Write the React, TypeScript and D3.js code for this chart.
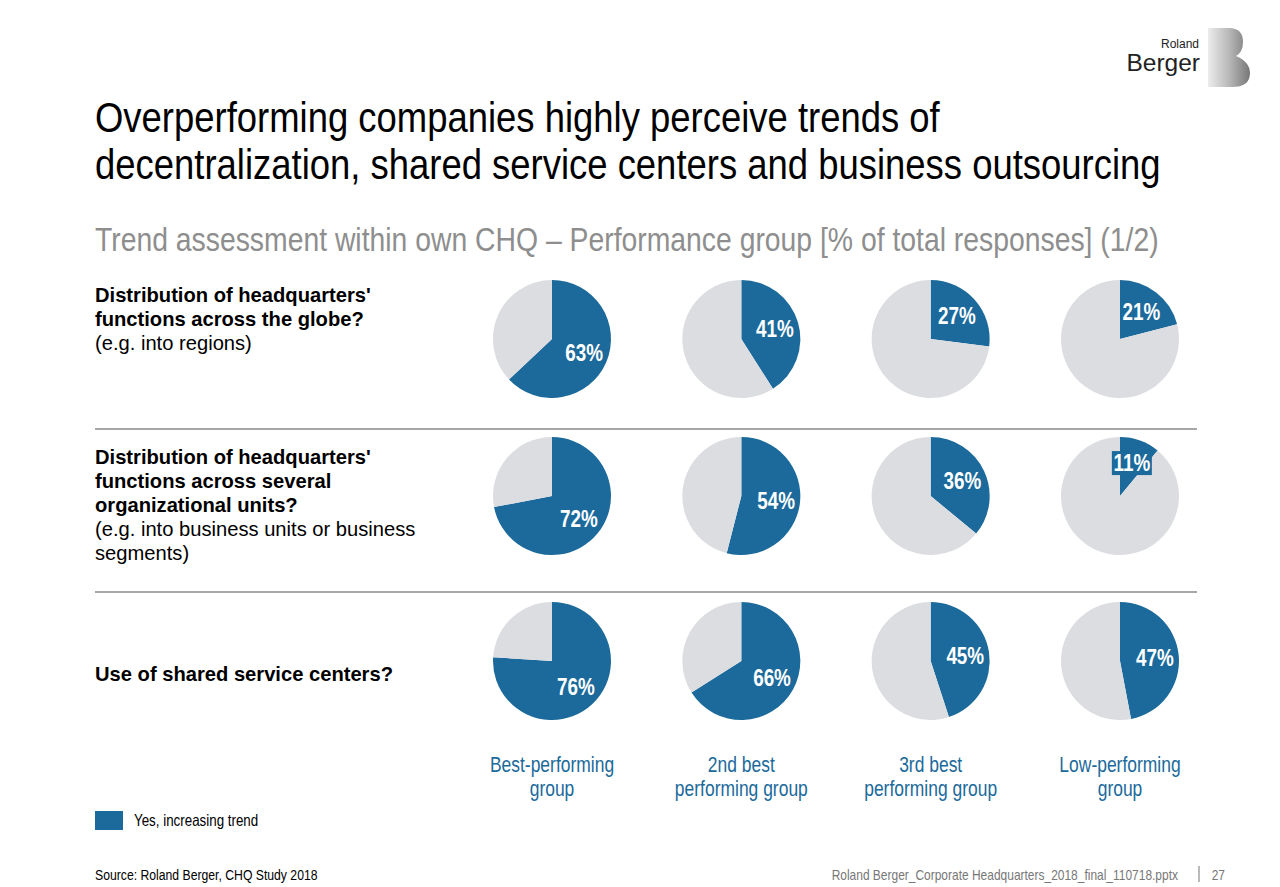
import * as d3 from "d3";

// data
const groups = [
  ["Best-performing", "group"],
  ["2nd best", "performing group"],
  ["3rd best", "performing group"],
  ["Low-performing", "group"],
];
const rowKeys = ["globe", "orgUnits", "ssc"];
const globeValues = [63, 41, 27, 21];
const orgUnitValues = [72, 54, 36, 11];
const sscValues = [76, 66, 45, 47];
const rowValues = [globeValues, orgUnitValues, sscValues];

const rowLabels = [
  [
    { t: "Distribution of headquarters'", b: true },
    { t: "functions across the globe?", b: true },
    { t: "(e.g. into regions)", b: false },
  ],
  [
    { t: "Distribution of headquarters'", b: true },
    { t: "functions across several", b: true },
    { t: "organizational units?", b: true },
    { t: "(e.g. into business units or business", b: false },
    { t: "segments)", b: false },
  ],
  [{ t: "Use of shared service centers?", b: true }],
];

const BLUE = "#1b6a9b";
const GREY = "#dcdde1";
const FONT = "'Liberation Sans', Arial, sans-serif";
const NARROW = 0.82; // Arial Narrow ~ Arial squeezed horizontally

const W = 1280;
const H = 887;
const R = 59;

type NTextProps = {
  x: number;
  y: number;
  size: number;
  sx?: number;
  fill?: string;
  bold?: boolean;
  anchor?: "start" | "middle" | "end";
  baseline?: string;
  children: React.ReactNode;
};

// narrow text: draw at origin and squeeze with a transform
function NText({ x, y, size, sx = NARROW, fill = "#000", bold, anchor = "start", baseline, children }: NTextProps) {
  return (
    <g transform={`translate(${x},${y}) scale(${sx},1)`}>
      <text
        x={0}
        y={0}
        fontSize={size}
        fill={fill}
        fontWeight={bold ? "bold" : "normal"}
        textAnchor={anchor}
        dominantBaseline={baseline}
      >
        {children}
      </text>
    </g>
  );
}

export default function App() {
  const x = d3.scalePoint<number>().domain(d3.range(groups.length)).range([552, 1120]);
  const y = d3.scaleOrdinal<string, number>().domain(rowKeys).range([339, 496, 661]);
  const labelTop = d3.scaleOrdinal<string, number>().domain(rowKeys).range([302, 464, 681]);

  const pie = d3
    .pie<{ k: string; v: number }>()
    .value((d) => d.v)
    .sort(null);
  const arc = d3.arc<d3.PieArcDatum<{ k: string; v: number }>>().innerRadius(0).outerRadius(R);
  const labelArc = d3.arc<d3.PieArcDatum<{ k: string; v: number }>>().innerRadius(35).outerRadius(35);

  return (
    <svg
      width={W}
      height={H}
      style={{ position: "absolute", left: 0, top: 0, background: "#fff" }}
      fontFamily={FONT}
    >
      <defs>
        <linearGradient id="bgrad" x1="0" x2="1" y1="0" y2="0">
          <stop offset="0" stopColor="#ececec" />
          <stop offset="0.5" stopColor="#b8b8b8" />
          <stop offset="1" stopColor="#777" />
        </linearGradient>
      </defs>

      {/* logo */}
      <text x={1199} y={48} textAnchor="end" fontSize={12} fill="#222">
        Roland
      </text>
      <text x={1200} y={71} textAnchor="end" fontSize={24.5} fill="#222">
        Berger
      </text>
      <path
        d="M1208,28 H1229 Q1243,28 1243,42 Q1243,52 1236,56 Q1250,62 1250,73 Q1250,87 1232,87 H1208 Z"
        fill="url(#bgrad)"
      />

      {/* title */}
      <NText x={95} y={132} size={42} sx={0.868}>
        Overperforming companies highly perceive trends of
      </NText>
      <NText x={95} y={179} size={42} sx={0.868}>
        decentralization, shared service centers and business outsourcing
      </NText>
      <NText x={95} y={251} size={33} sx={0.859} fill="#8e8e8e">
        Trend assessment within own CHQ – Performance group [% of total responses] (1/2)
      </NText>

      {/* row labels */}
      {rowKeys.map((k, i) => (
        <g key={k}>
          {rowLabels[i].map((l, j) => (
            <NText key={j} x={95} y={labelTop(k) + j * 24} size={21} sx={0.96} bold={l.b}>
              {l.t}
            </NText>
          ))}
        </g>
      ))}

      {/* separators */}
      {[429, 592].map((ly) => (
        <line key={ly} x1={95} x2={1197} y1={ly} y2={ly} stroke="#8a8a8a" strokeWidth={1.5} />
      ))}

      {/* pies */}
      {rowKeys.map((k, i) =>
        rowValues[i].map((v, c) => {
          const arcs = pie([
            { k: "yes", v },
            { k: "other", v: 100 - v },
          ]);
          const [lx, ly] = labelArc.centroid(arcs[0]);
          const small = v < 15;
          return (
            <g key={k + c} transform={`translate(${x(c)},${y(k)})`}>
              {arcs.map((a) => (
                <path key={a.data.k} d={arc(a) || ""} fill={a.data.k === "yes" ? BLUE : GREY} />
              ))}
              {small && <rect x={lx - 20} y={ly - 12} width={40} height={24} fill={BLUE} />}
              <NText x={lx} y={ly} size={23} bold fill="#fff" anchor="middle" baseline="central">
                {v}%
              </NText>
            </g>
          );
        })
      )}

      {/* group labels */}
      {groups.map((g, c) =>
        g.map((line, j) => (
          <NText key={c + "-" + j} x={x(c)!} y={772 + j * 24} size={21.3} fill={BLUE} anchor="middle">
            {line}
          </NText>
        ))
      )}

      {/* legend */}
      <rect x={95} y={811} width={28} height={19} fill={BLUE} />
      <NText x={134} y={826} size={16.3}>
        Yes, increasing trend
      </NText>

      {/* footer */}
      <NText x={95} y={880} size={14.9}>
        Source: Roland Berger, CHQ Study 2018
      </NText>
      <NText x={1178} y={880} size={14.6} fill="#777" anchor="end">
        Roland Berger_Corporate Headquarters_2018_final_110718.pptx
      </NText>
      <line x1={1199} x2={1199} y1={866} y2={882} stroke="#777" strokeWidth={1} />
      <NText x={1225} y={880} size={14.6} fill="#777" anchor="end">
        27
      </NText>
    </svg>
  );
}
